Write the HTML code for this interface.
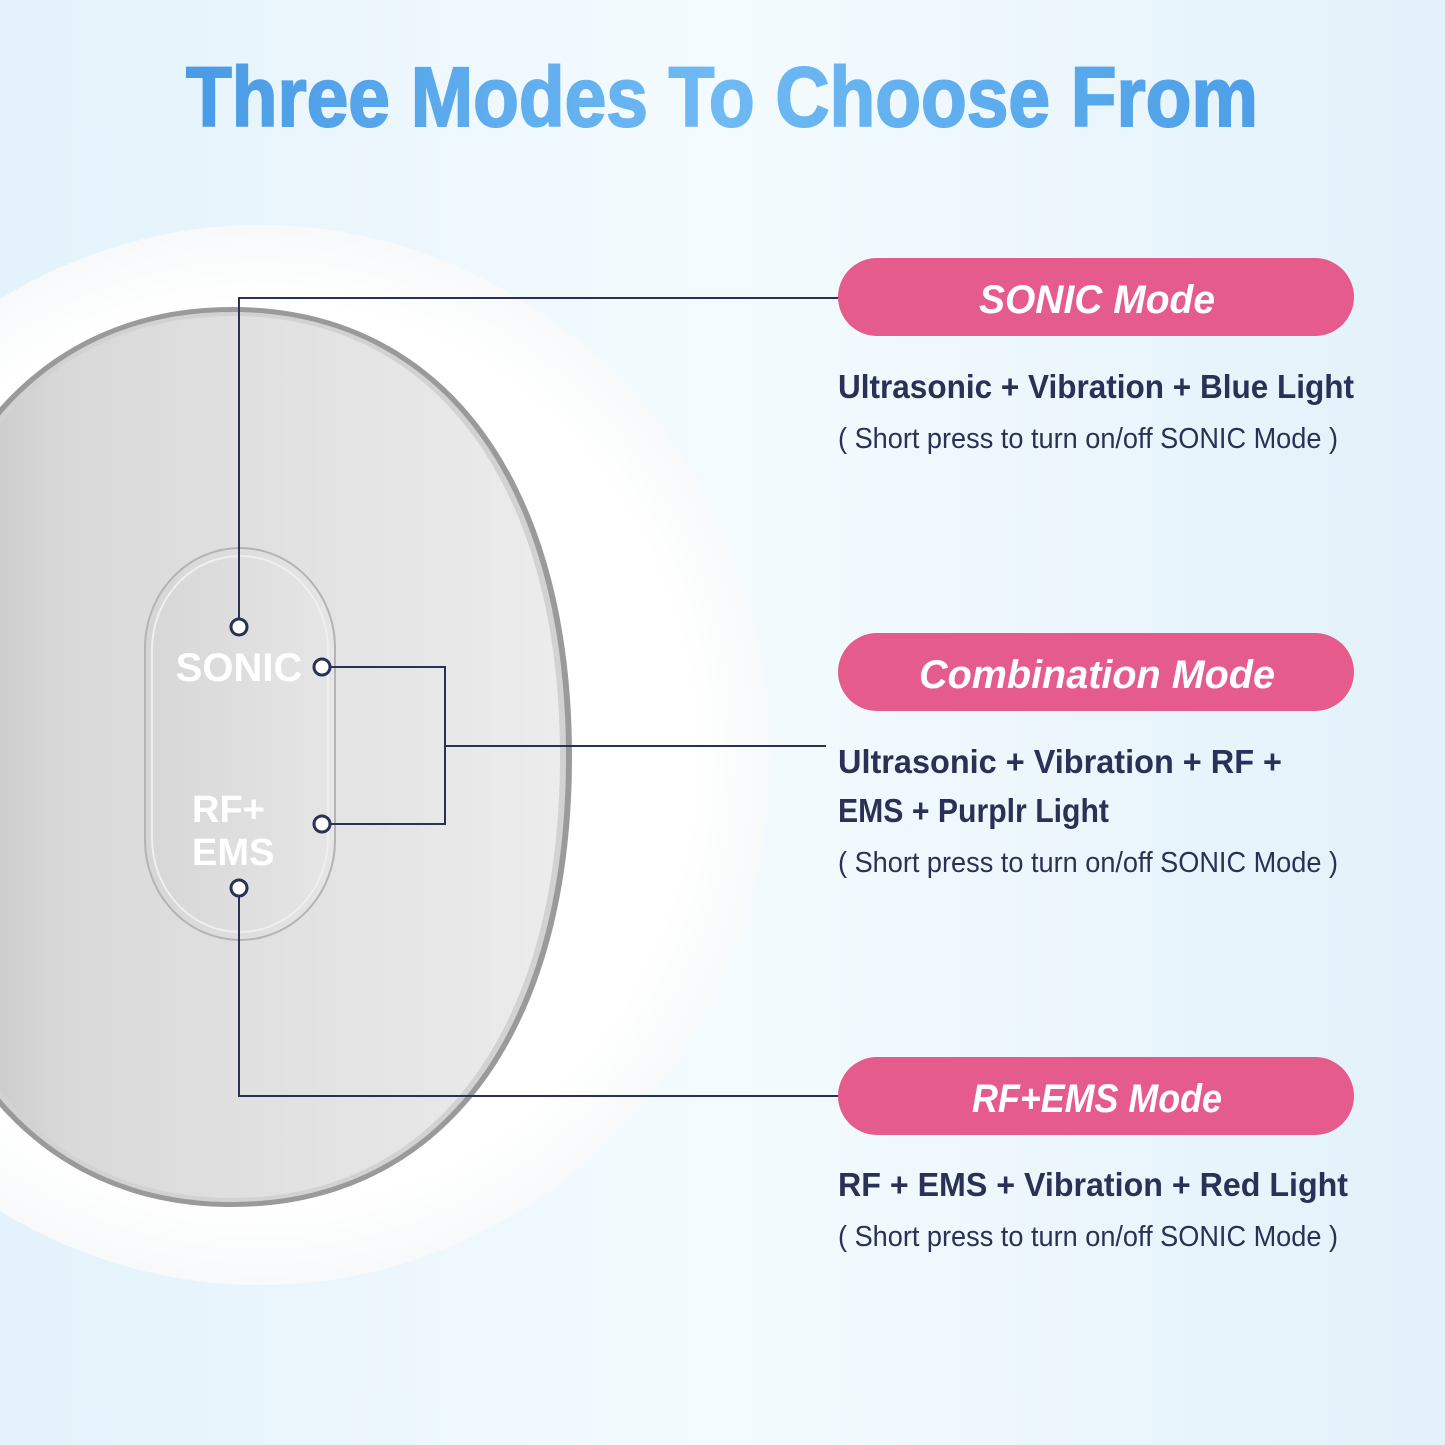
<!DOCTYPE html>
<html><head><meta charset="utf-8"><style>
html,body{margin:0;padding:0;width:1445px;height:1445px;overflow:hidden}
svg{display:block}
</style></head><body>
<svg width="1445" height="1445" viewBox="0 0 1445 1445" xmlns="http://www.w3.org/2000/svg">
<defs>
<linearGradient id="bg" x1="0" y1="0" x2="1" y2="0">
<stop offset="0" stop-color="#e3f2fb"/><stop offset="0.5" stop-color="#f4fbfe"/><stop offset="1" stop-color="#e2f1fa"/>
</linearGradient>
<linearGradient id="tt" x1="0" y1="0" x2="1" y2="0">
<stop offset="0" stop-color="#4a9be6"/><stop offset="0.5" stop-color="#6fbaf4"/><stop offset="1" stop-color="#4d9fe8"/>
</linearGradient>
<radialGradient id="circ" cx="0.5" cy="0.5" r="0.5">
<stop offset="0.85" stop-color="#ffffff"/><stop offset="1" stop-color="#f7f9fa"/>
</radialGradient>
<linearGradient id="dev" x1="0" y1="0" x2="1" y2="0">
<stop offset="0" stop-color="#bdbdbd"/><stop offset="0.25" stop-color="#d9d9d9"/><stop offset="1" stop-color="#ececec"/>
</linearGradient>
<linearGradient id="pill" x1="0" y1="0" x2="1" y2="0">
<stop offset="0" stop-color="#d6d6d6"/><stop offset="1" stop-color="#e6e6e6"/>
</linearGradient>
</defs>
<rect width="1445" height="1445" fill="url(#bg)"/>
<text x="722" y="126" text-anchor="middle" font-family="Liberation Sans, sans-serif" font-weight="bold" font-size="84" fill="url(#tt)" stroke="url(#tt)" stroke-width="2" textLength="1072" lengthAdjust="spacingAndGlyphs">Three Modes To Choose From</text>
<ellipse cx="260" cy="755" rx="510" ry="530" fill="url(#circ)"/>
<!-- device: center (232,757) rx 340 ry 448, squarish -->
<path d="M232,307 C443,307 572,480 572,757 C572,1034 443,1207 232,1207 C21,1207 -108,1034 -108,757 C-108,480 21,307 232,307 Z" fill="#9a9a9a"/>
<path d="M232,312 C440,312 566,483 566,757 C566,1031 440,1202 232,1202 C24,1202 -102,1031 -102,757 C-102,483 24,312 232,312 Z" fill="#d2d2d2"/>
<path d="M232,316 C436,316 560,486 560,757 C560,1028 436,1198 232,1198 C28,1198 -96,1028 -96,757 C-96,486 28,316 232,316 Z" fill="url(#dev)"/>
<rect x="145" y="548" width="190" height="392" rx="95" ry="100" fill="url(#pill)" stroke="#b4b4b4" stroke-width="2"/>
<rect x="152" y="556" width="176" height="376" rx="88" ry="94" fill="none" stroke="#efefef" stroke-width="2"/>
<g font-family="Liberation Sans, sans-serif" font-weight="bold" fill="#fff">
<text x="239" y="681" text-anchor="middle" font-size="40">SONIC</text>
<text x="192" y="822" font-size="38">RF+</text>
<text x="192" y="865" font-size="38">EMS</text>
</g>
<g fill="none" stroke="#2a3157" stroke-width="2">
<polyline points="239,618 239,298 840,298"/>
<polyline points="331,667 445,667 445,824 331,824"/>
<line x1="445" y1="746" x2="826" y2="746"/>
<polyline points="239,897 239,1096 840,1096"/>
</g>
<g fill="#fff" stroke="#2a3157" stroke-width="3">
<circle cx="239" cy="627" r="8"/><circle cx="322" cy="667" r="8"/>
<circle cx="322" cy="824" r="8"/><circle cx="239" cy="888" r="8"/>
</g>
<g fill="#e55b8c">
<rect x="838" y="258" width="516" height="78" rx="39"/>
<rect x="838" y="633" width="516" height="78" rx="39"/>
<rect x="838" y="1057" width="516" height="78" rx="39"/>
</g>
<g font-family="Liberation Sans, sans-serif" font-weight="bold" font-style="italic" font-size="40" fill="#fff" text-anchor="middle">
<text x="1097" y="313" textLength="236" lengthAdjust="spacingAndGlyphs">SONIC Mode</text>
<text x="1097" y="688" textLength="356" lengthAdjust="spacingAndGlyphs">Combination Mode</text>
<text x="1097" y="1112" textLength="250" lengthAdjust="spacingAndGlyphs">RF+EMS Mode</text>
</g>
<g font-family="Liberation Sans, sans-serif" fill="#2a3157">
<g font-size="33" font-weight="bold">
<text x="838" y="398" textLength="516" lengthAdjust="spacingAndGlyphs">Ultrasonic  +  Vibration  +  Blue Light</text>
<text x="838" y="773" textLength="444" lengthAdjust="spacingAndGlyphs">Ultrasonic  +  Vibration  +  RF  +</text>
<text x="838" y="822" textLength="271" lengthAdjust="spacingAndGlyphs">EMS  +  Purplr Light</text>
<text x="838" y="1196" textLength="510" lengthAdjust="spacingAndGlyphs">RF  +  EMS  +  Vibration  +  Red Light</text>
</g>
<g font-size="29">
<text x="838" y="448" textLength="500" lengthAdjust="spacingAndGlyphs">( Short press to turn on/off SONIC Mode )</text>
<text x="838" y="872" textLength="500" lengthAdjust="spacingAndGlyphs">( Short press to turn on/off SONIC Mode )</text>
<text x="838" y="1246" textLength="500" lengthAdjust="spacingAndGlyphs">( Short press to turn on/off SONIC Mode )</text>
</g>
</g>
</svg>
</body></html>
